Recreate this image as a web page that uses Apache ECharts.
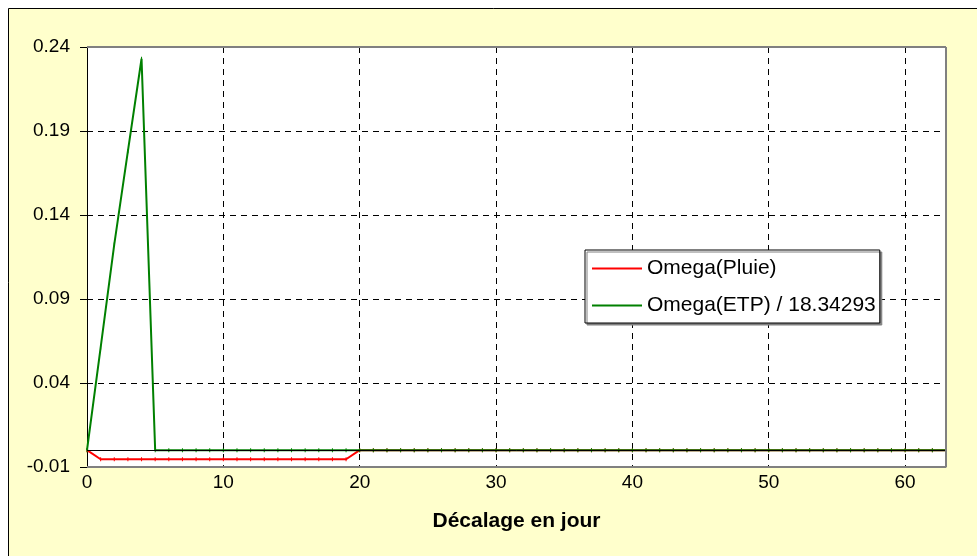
<!DOCTYPE html>
<html>
<head>
<meta charset="utf-8">
<script src="https://cdn.jsdelivr.net/npm/echarts@6/dist/echarts.min.js"></script>
<style>
html,body{margin:0;padding:0;background:#fff;}
#c{width:977px;height:556px;}
</style>
</head>
<body>
<div id="c"></div>
<script>
// Lag in days (x) and series values
var lags = [];
for (var i = 0; i <= 63; i++) lags.push(i);
var pluieVals = [0,
  -0.0054,-0.0054,-0.0054,-0.0054,-0.0054,-0.0054,-0.0054,-0.0054,-0.0054,-0.0054,
  -0.0054,-0.0054,-0.0054,-0.0054,-0.0054,-0.0054,-0.0054,-0.0054,-0.0054,
  0,0,0,0,0,0,0,0,0,0,0,0,0,0,0,0,0,0,0,0,0,0,0,0,0,0,0,0,0,0,0,0,0,0,0,0,0,0,0,0,0,0,0,0];
var etpVals = [0, 0.061, 0.1225, 0.178, 0.233, 0,
  0,0,0,0,0,0,0,0,0,0,0,0,0,0,0,0,0,0,0,0,0,0,0,0,0,0,0,0,0,0,0,0,0,0,0,0,0,0,0,0,0,0,0,0,0,0,0,0,0,0,0,0,0,0,0,0,0,0];
var seriesNames = ['Omega(Pluie)', 'Omega(ETP) / 18.34293'];
var xTitle = 'Décalage en jour';

function pairs(vals){ return vals.map(function(v,i){ return [lags[i], v]; }); }

var chart = echarts.init(document.getElementById('c'));
var font = 'Liberation Sans, Arial, sans-serif';
chart.setOption({
  animation: false,
  backgroundColor: '#ffffff',
  graphic: [{
    type: 'rect', z: -10, silent: true,
    shape: {x: 8.5, y: 8.5, width: 1000, height: 600},
    style: {fill: '#FFFFCC', stroke: '#000', lineWidth: 1}
  }],
  grid: {left: 87, top: 47, right: 31, bottom: 89, show: true, backgroundColor: '#ffffff', borderWidth: 0},
  legend: {
    orient: 'vertical',
    left: 585, top: 250,
    backgroundColor: '#ffffff',
    borderColor: '#000', borderWidth: 1,
    shadowColor: '#808080', shadowOffsetX: 2, shadowOffsetY: 2, shadowBlur: 0,
    padding: [8, 4, 7, 7],
    itemGap: 16,
    itemWidth: 50, itemHeight: 2,
    icon: 'rect',
    textStyle: {fontFamily: font, fontSize: 21, color: '#000', padding: [0,0,0,0]},
    data: seriesNames
  },
  xAxis: [{
    type: 'value', min: 0, max: 63, interval: 10,
    name: xTitle, nameLocation: 'middle', nameGap: 44,
    nameTextStyle: {fontFamily: font, fontSize: 21, fontWeight: 'bold', color: '#000'},
    axisLine: {onZero: false, lineStyle: {color: '#808080', width: 1}},
    axisTick: {show: false},
    axisLabel: {fontFamily: font, fontSize: 19, color: '#000', margin: 6, showMaxLabel: false,
      formatter: function(v){ return (v % 10 === 0) ? String(v) : ''; }},
    splitLine: {show: true, lineStyle: {color: '#000', type: [6, 5], width: 1}}
  }],
  yAxis: [{
    type: 'value', min: -0.01, max: 0.24, interval: 0.05,
    axisLine: {show: true, onZero: false, lineStyle: {color: '#000', width: 1}},
    axisTick: {show: true, inside: false, length: 7, lineStyle: {color: '#000'}},
    axisLabel: {fontFamily: font, fontSize: 19, color: '#000', margin: 17,
      formatter: function(v){ return v.toFixed(2); }},
    splitLine: {show: true, lineStyle: {color: '#000', type: [6, 5], width: 1}}
  }],
  series: [{
    name: 'border', type: 'line', data: [], z: 1, silent: true,
    markLine: {
      silent: true, symbol: 'none', animation: false,
      label: {show: false},
      data: [
        {yAxis: 0, lineStyle: {color: '#000', type: 'solid', width: 1}},
        {yAxis: 0.24, lineStyle: {color: '#808080', type: 'solid', width: 2}},
        {xAxis: 63, lineStyle: {color: '#808080', type: 'solid', width: 2}},
        {yAxis: -0.01, lineStyle: {color: '#808080', type: 'solid', width: 2}}
      ]
    }
  }, {
    name: seriesNames[0], type: 'line', z: 3,
    data: pairs(pluieVals),
    symbol: 'rect', symbolSize: [1, 4], showSymbol: true,
    itemStyle: {color: '#FF0000'},
    lineStyle: {color: '#FF0000', width: 2}
  }, {
    name: seriesNames[1], type: 'line', z: 4,
    data: pairs(etpVals),
    symbol: 'rect', symbolSize: [1, 4], showSymbol: true,
    itemStyle: {color: '#008000'},
    lineStyle: {color: '#008000', width: 2}
  }]
});
</script>
</body>
</html>
